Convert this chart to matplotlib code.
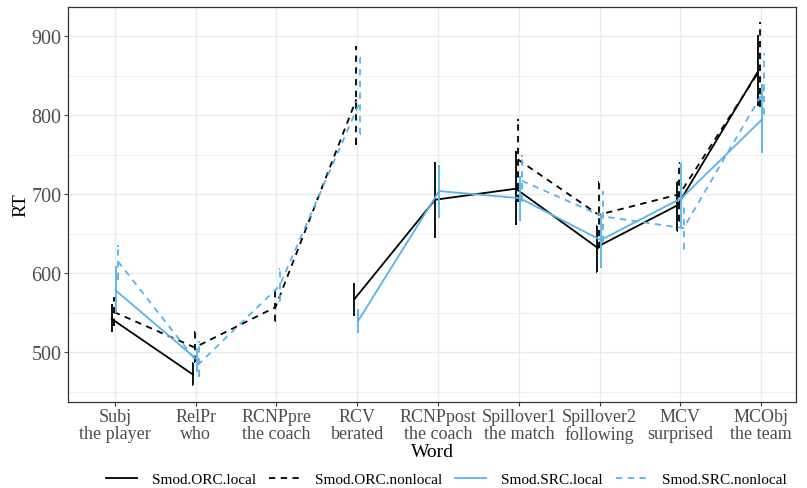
import numpy as np
import matplotlib.pyplot as plt

plt.rcParams['font.family'] = ['Liberation Serif', 'DejaVu Serif']

words = ["Subj\nthe player", "RelPr\nwho", "RCNPpre\nthe coach", "RCV\nberated",
         "RCNPpost\nthe coach", "Spillover1\nthe match", "Spillover2\nfollowing",
         "MCV\nsurprised", "MCObj\nthe team"]
nan = np.nan

# means and error bar limits (lo, hi) per condition
orc_local = [542, 472, nan, 567, 693, 707, 633, 686, 856]
orc_local_lo = [527, 458, nan, 547, 646, 662, 602, 653, 813]
orc_local_hi = [560, 486, nan, 586, 739, 753, 660, 716, 900]

orc_nonlocal = [551, 506, 557, 820, nan, 744, 674, 700, 858]
orc_nonlocal_lo = [535, 488, 539, 764, nan, 692, 632, 666, 812]
orc_nonlocal_hi = [569, 525, 579, 886, nan, 794, 716, 739, 917]

src_local = [578, 491, nan, 540, 704, 695, 642, 695, 795]
src_local_lo = [551, 476, nan, 525, 671, 668, 608, 657, 754]
src_local_hi = [608, 504, nan, 554, 736, 722, 672, 739, 838]

src_nonlocal = [615, 485, 584, 818, nan, 717, 672, 657, 832]
src_nonlocal_lo = [593, 470, 565, 776, nan, 692, 640, 631, 801]
src_nonlocal_hi = [634, 513, 605, 872, nan, 748, 703, 682, 877]

conds = ["Smod.ORC.local", "Smod.ORC.nonlocal", "Smod.SRC.local", "Smod.SRC.nonlocal"]
series = [(orc_local, orc_local_lo, orc_local_hi),
          (orc_nonlocal, orc_nonlocal_lo, orc_nonlocal_hi),
          (src_local, src_local_lo, src_local_hi),
          (src_nonlocal, src_nonlocal_lo, src_nonlocal_hi)]
colors = ["black", "black", "#56B4E9", "#56B4E9"]
styles = ["-", (0, (3.5, 3)), "-", (0, (3.5, 3))]
offsets = [-0.0375, -0.0125, 0.0125, 0.0375]

fig = plt.figure(figsize=(8.07, 4.89), dpi=100)
ax = fig.add_axes([0.0843, 0.1759, 0.9021, 0.8077])

x = np.arange(1, len(words) + 1)
handles = []
for (m, lo, hi), c, ls, off, lab in zip(series, colors, styles, offsets, conds):
    m = np.array(m, float)
    lo = np.array(lo, float)
    hi = np.array(hi, float)
    xs = x + off
    h, = ax.plot(xs, m, color=c, linestyle=ls, lw=1.3, label=lab, zorder=3)
    handles.append(h)
    ok = ~np.isnan(m)
    ax.vlines(xs[ok], lo[ok], hi[ok], color=c, linestyle=ls, lw=1.3, zorder=3)
    ax.hlines(np.r_[lo[ok], hi[ok]], np.r_[xs[ok], xs[ok]] - 0.01,
              np.r_[xs[ok], xs[ok]] + 0.01, color=c, lw=1.3, zorder=3)

ax.set_xlim(0.42, 9.43)
ax.set_ylim(437, 937)
ax.set_xticks(x)
ax.set_xticklabels(words, fontsize=13, color="#4d4d4d", linespacing=1.0)
ax.set_yticks([500, 600, 700, 800, 900])
ax.set_yticks([450, 550, 650, 750, 850], minor=True)
ax.tick_params(axis='y', labelsize=14.5, colors="#4d4d4d", length=2.8, pad=2)
ax.tick_params(axis='y', which='minor', length=0)
ax.tick_params(axis='x', length=2.8, color="#333333", pad=1.5)
ax.grid(True, which='major', color="#ebebeb", lw=1.0, zorder=0)
ax.grid(True, which='minor', axis='y', color="#ebebeb", lw=0.6, zorder=0)
ax.set_axisbelow(True)
for s in ax.spines.values():
    s.set_color("#333333")
    s.set_linewidth(0.9)
ax.set_xlabel("Word", fontsize=14, labelpad=0)
ax.set_ylabel("RT", fontsize=14, labelpad=1)

fig.legend(handles=handles, loc='center', bbox_to_anchor=(0.553, 0.018), ncol=4,
           frameon=False, fontsize=11, handlelength=2.0, columnspacing=0.85,
           handletextpad=1.0, borderaxespad=0, borderpad=0)

fig.savefig("out.png", dpi=100)
